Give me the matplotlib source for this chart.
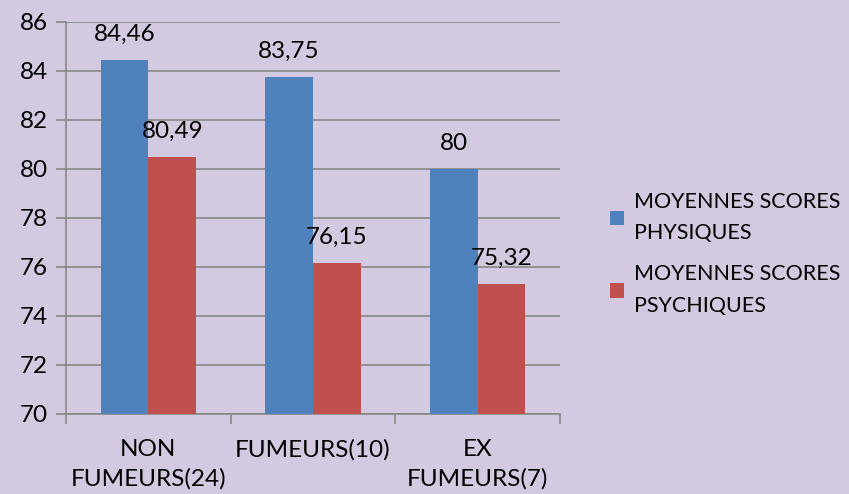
import matplotlib
matplotlib.use("Agg")
import matplotlib.pyplot as plt
import numpy as np
from matplotlib.patches import Patch

categories = ["NON\nFUMEURS(24)", "FUMEURS(10)", "EX\nFUMEURS(7)"]
physiques = [84.46, 83.75, 80.00]
psychiques = [80.49, 76.15, 75.32]
labels_phys = ["84,46", "83,75", "80"]
labels_psy = ["80,49", "76,15", "75,32"]
series_names = ["MOYENNES SCORES\nPHYSIQUES", "MOYENNES SCORES\nPSYCHIQUES"]
yticks = [70, 72, 74, 76, 78, 80, 82, 84, 86]

plt.rcParams['font.family'] = ['Lato', 'DejaVu Sans']
bg = "#D3C9E0"
blue = "#4F81BD"
red = "#C0504D"
grid = "#878787"
fs = 17.5

fig = plt.figure(figsize=(8.49, 4.94), dpi=100, facecolor=bg)
ax = fig.add_axes([0.0777, 0.162, 0.582, 0.7935], facecolor=bg)

x = np.arange(len(categories))
w = 0.29
ax.bar(x - w/2, [v - 70 for v in physiques], w, bottom=70, color=blue, zorder=3)
ax.bar(x + w/2, [v - 70 for v in psychiques], w, bottom=70, color=red, zorder=3)

for xi, v, t in zip(x - w/2, physiques, labels_phys):
    ax.annotate(t, (xi, v), xytext=(0, 11), textcoords="offset points",
                ha="center", va="bottom", fontsize=fs, color="black")
for xi, v, t in zip(x + w/2, psychiques, labels_psy):
    ax.annotate(t, (xi, v), xytext=(0, 11), textcoords="offset points",
                ha="center", va="bottom", fontsize=fs, color="black")

ax.set_xlim(-0.5, 2.5)
ax.set_ylim(70, 86)
ax.set_yticks(yticks)
ax.set_yticklabels([str(t) for t in yticks], fontsize=fs)
ax.yaxis.grid(True, color=grid, linewidth=1.2, zorder=0)
ax.tick_params(axis='y', length=7, color=grid, width=1.2, pad=6)

ax.set_xticks([-0.5, 0.5, 1.5, 2.5])
ax.set_xticklabels([])
ax.tick_params(axis='x', length=7, color=grid, width=1.2)
ax.set_xticks(x, minor=True)
ax.set_xticklabels(categories, minor=True, fontsize=fs, linespacing=1.45)
ax.tick_params(axis='x', which='minor', length=0, pad=18)

for s in ["top", "right"]:
    ax.spines[s].set_visible(False)
ax.spines["left"].set_color(grid)
ax.spines["left"].set_linewidth(1.2)
ax.spines["bottom"].set_color(grid)
ax.spines["bottom"].set_linewidth(1.2)

handles = [Patch(facecolor=blue), Patch(facecolor=red)]
leg = fig.legend(handles, series_names, loc="upper left", bbox_to_anchor=(0.7185, 0.612),
           frameon=False, fontsize=15.5, handlelength=0.65, handleheight=0.65,
           handletextpad=0.45, labelspacing=1.0, borderpad=0, borderaxespad=0)
for t in leg.get_texts():
    t.set_linespacing(1.7)

fig.savefig("out.png", dpi=100, facecolor=bg)
